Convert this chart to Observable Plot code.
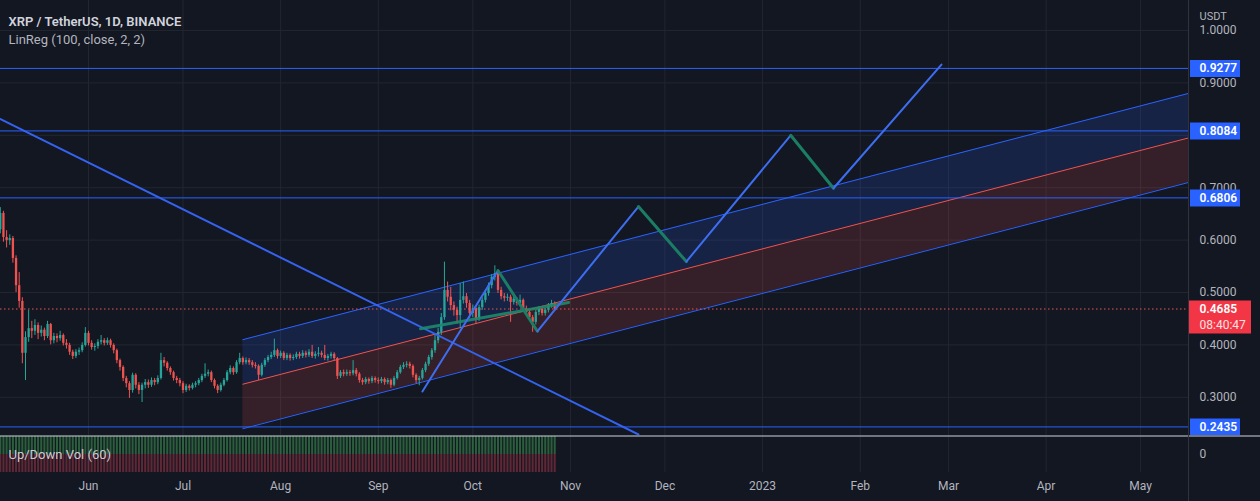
<!DOCTYPE html>
<html><head><meta charset="utf-8">
<script src="https://cdn.jsdelivr.net/npm/d3@7"></script>
<script src="https://cdn.jsdelivr.net/npm/@observablehq/plot@0.6"></script>
<style>
html,body{margin:0;padding:0;background:#131722;}
#chart{width:1260px;height:501px;overflow:hidden;background:#131722;}
#chart svg{display:block;}
</style></head><body><div id="chart"></div>
<script>
// ---------- data ----------
const firstDay = "2022-05-04";
const lastDayExclusive = "2022-10-28";
const firstOpen = 0.620;
const closes = [0.651,0.605,0.599,0.603,0.565,0.513,0.483,0.384,0.414,0.431,
0.426,0.437,0.422,0.428,0.416,0.439,0.408,0.416,0.412,0.418,
0.403,0.399,0.386,0.378,0.386,0.389,0.399,0.422,0.403,0.395,
0.397,0.405,0.408,0.403,0.408,0.399,0.389,0.370,0.357,0.336,
0.326,0.313,0.342,0.323,0.313,0.323,0.328,0.323,0.332,0.328,
0.336,0.370,0.365,0.355,0.347,0.336,0.332,0.326,0.313,0.321,
0.317,0.323,0.326,0.332,0.340,0.344,0.347,0.332,0.321,0.313,
0.323,0.332,0.347,0.355,0.347,0.366,0.374,0.366,0.370,0.366,
0.361,0.359,0.342,0.361,0.370,0.376,0.380,0.389,0.378,0.384,
0.374,0.380,0.374,0.376,0.382,0.378,0.384,0.380,0.386,0.378,
0.382,0.384,0.380,0.374,0.378,0.382,0.374,0.340,0.347,0.344,
0.347,0.345,0.351,0.344,0.332,0.328,0.334,0.330,0.336,0.332,
0.330,0.334,0.328,0.332,0.323,0.336,0.347,0.357,0.361,0.363,
0.359,0.342,0.332,0.336,0.351,0.363,0.376,0.389,0.408,0.424,
0.452,0.504,0.491,0.475,0.466,0.456,0.485,0.492,0.479,0.460,
0.469,0.450,0.471,0.485,0.498,0.513,0.529,0.536,0.504,0.492,
0.489,0.491,0.481,0.487,0.479,0.485,0.469,0.462,0.452,0.443,
0.462,0.469,0.460,0.466,0.475,0.479,0.4685];
const highs = [0.662,0.655,0.618,0.610,0.607,0.570,0.538,0.490,0.425,0.466,
0.445,0.448,0.442,0.436,0.432,0.445,0.441,0.422,0.421,0.426,
0.421,0.410,0.403,0.390,0.391,0.394,0.404,0.433,0.426,0.408,
0.402,0.410,0.418,0.412,0.413,0.411,0.402,0.392,0.373,0.360,
0.340,0.330,0.346,0.345,0.328,0.327,0.334,0.333,0.337,0.336,
0.341,0.384,0.376,0.368,0.358,0.350,0.340,0.336,0.330,0.325,
0.324,0.327,0.330,0.336,0.344,0.364,0.352,0.350,0.335,0.324,
0.327,0.336,0.351,0.360,0.358,0.370,0.384,0.377,0.375,0.374,
0.370,0.366,0.362,0.365,0.374,0.380,0.386,0.411,0.392,0.388,
0.387,0.384,0.383,0.381,0.386,0.386,0.389,0.388,0.391,0.399,
0.387,0.395,0.388,0.399,0.382,0.386,0.385,0.376,0.351,0.352,
0.352,0.351,0.370,0.355,0.347,0.336,0.338,0.337,0.340,0.339,
0.337,0.338,0.337,0.336,0.335,0.340,0.351,0.361,0.366,0.368,
0.367,0.362,0.345,0.340,0.355,0.367,0.380,0.393,0.420,0.432,
0.460,0.558,0.520,0.510,0.482,0.472,0.517,0.520,0.498,0.485,
0.476,0.474,0.476,0.490,0.503,0.518,0.534,0.551,0.540,0.510,
0.498,0.497,0.495,0.492,0.490,0.495,0.488,0.474,0.466,0.456,
0.466,0.473,0.472,0.470,0.479,0.485,0.482];
const lows = [0.612,0.596,0.585,0.590,0.556,0.500,0.470,0.364,0.332,0.405,
0.412,0.418,0.410,0.415,0.408,0.412,0.400,0.402,0.404,0.407,
0.398,0.392,0.380,0.372,0.374,0.380,0.385,0.396,0.398,0.390,
0.388,0.392,0.400,0.398,0.399,0.394,0.383,0.364,0.350,0.330,
0.318,0.298,0.308,0.316,0.305,0.290,0.316,0.317,0.319,0.322,
0.324,0.333,0.358,0.350,0.342,0.331,0.326,0.320,0.307,0.309,
0.312,0.314,0.318,0.322,0.328,0.336,0.339,0.328,0.316,0.307,
0.310,0.320,0.329,0.343,0.342,0.344,0.362,0.361,0.362,0.361,
0.356,0.354,0.332,0.339,0.357,0.366,0.372,0.376,0.373,0.374,
0.370,0.370,0.369,0.370,0.372,0.373,0.374,0.375,0.376,0.374,
0.373,0.377,0.375,0.370,0.369,0.373,0.370,0.334,0.336,0.339,
0.340,0.340,0.341,0.339,0.327,0.323,0.324,0.325,0.326,0.327,
0.325,0.326,0.323,0.324,0.317,0.320,0.333,0.344,0.353,0.356,
0.354,0.337,0.326,0.322,0.333,0.347,0.359,0.371,0.384,0.402,
0.418,0.447,0.482,0.465,0.455,0.440,0.431,0.478,0.470,0.450,
0.452,0.440,0.445,0.466,0.480,0.493,0.507,0.522,0.498,0.486,
0.482,0.483,0.443,0.476,0.474,0.475,0.463,0.456,0.446,0.424,
0.438,0.456,0.455,0.455,0.461,0.470,0.465];

const gridPrices = [0.3,0.4,0.5,0.6,0.7,0.8,0.9,1.0];
const axisPriceLabels = [0.3,0.4,0.5,0.6,0.7,0.9,1.0]; // 0.8000 is hidden behind the 0.8084 label
const monthTickDates = ["2022-06-01","2022-07-01","2022-08-01","2022-09-01","2022-10-01","2022-11-01","2022-12-01","2023-01-01","2023-02-01","2023-03-01","2023-04-01","2023-05-01"];
const monthTickLabels = ["Jun","Jul","Aug","Sep","Oct","Nov","Dec","2023","Feb","Mar","Apr","May"];

const levels = [0.9277, 0.8084, 0.6806, 0.2435];
const lastPrice = 0.4685;
const countdown = "08:40:47";

const linregDates = ["2022-07-20T00:00:00Z","2023-05-16T05:00:00Z"];
const linregUpper = [0.410, 0.880];
const linregMid   = [0.325, 0.795];
const linregLower = [0.240, 0.710];

const descDates = ["2022-05-04T01:30:00Z","2022-11-22T14:00:00Z"];
const descPrices = [0.831, 0.229];

const zigDates = ["2022-09-15T00:00:00Z","2022-10-09T00:00:00Z","2022-10-21T12:00:00Z","2022-11-22T14:00:00Z","2022-12-07T19:00:00Z","2023-01-09T22:00:00Z","2023-01-23T12:00:00Z","2023-02-26T19:00:00Z"];
const zigPrices = [0.311, 0.542, 0.426, 0.664, 0.559, 0.800, 0.699, 0.935];

const neckDates = ["2022-09-14T10:00:00Z","2022-10-31T10:00:00Z"];
const neckPrices = [0.431, 0.481];

const titleText = "XRP / TetherUS, 1D, BINANCE";
const indicatorText = "LinReg (100, close, 2, 2)";
const volText = "Up/Down Vol (60)";
const currencyText = "USDT";

// ---------- derived tables ----------
const UP = "#26a69a", DOWN = "#ef5350", BLUE = "#2962ff", GRID = "#222631", BG = "#131722";
const FONT = "Roboto, 'Open Sans', sans-serif";
const xDomain = [new Date("2022-05-04T01:30:00Z"), new Date("2023-05-16T05:00:00Z")];
const yDomain = [0.2271, 1.0573];
const days = d3.utcDay.range(new Date(firstDay), new Date(lastDayExclusive));
const candles = days.map((d, i) => ({
  date: d, open: i ? closes[i-1] : firstOpen, high: highs[i], low: lows[i], close: closes[i]
}));
const cColor = d => d.close >= d.open ? UP : DOWN;
const months = monthTickDates.map(s => new Date(s));
const monthLabel = new Map(months.map((d, i) => [+d, monthTickLabels[i]]));
const channel = linregDates.map((s, i) => ({date: new Date(s), upper: linregUpper[i], mid: linregMid[i], lower: linregLower[i]}));
const desc = descDates.map((s, i) => ({date: new Date(s), p: descPrices[i]}));
const zigSegs = zigDates.slice(1).map((s, i) => ({
  d1: new Date(zigDates[i]), p1: zigPrices[i], d2: new Date(s), p2: zigPrices[i+1],
  rising: zigPrices[i+1] > zigPrices[i]
}));
const neck = neckDates.map((s, i) => ({date: new Date(s), p: neckPrices[i]}));
const fmt4 = d3.format(".4f");

const main = Plot.plot({
  width: 1260, height: 435,
  marginLeft: 0, marginRight: 72, marginTop: 0, marginBottom: 0,
  style: {background: BG, color: "#b2b5be", fontFamily: FONT, fontSize: "12px"},
  x: {type: "utc", domain: xDomain, axis: null},
  y: {domain: yDomain, axis: null},
  marks: [
    Plot.ruleX(months, {stroke: GRID}),
    Plot.ruleY(gridPrices, {stroke: GRID}),
    Plot.areaY(channel, {x: "date", y1: "mid", y2: "upper", fill: BLUE, fillOpacity: 0.16}),
    Plot.areaY(channel, {x: "date", y1: "lower", y2: "mid", fill: DOWN, fillOpacity: 0.16}),
    Plot.line(channel, {x: "date", y: "upper", stroke: BLUE, strokeWidth: 1}),
    Plot.line(channel, {x: "date", y: "lower", stroke: BLUE, strokeWidth: 1}),
    Plot.line(channel, {x: "date", y: "mid", stroke: DOWN, strokeWidth: 1}),
    Plot.ruleY(levels, {stroke: BLUE, strokeWidth: 1}),
    Plot.ruleY([lastPrice], {stroke: DOWN, strokeDasharray: "1.5,2.5"}),
    Plot.ruleX(candles, {x: "date", y1: "low", y2: "high", stroke: cColor, strokeWidth: 1}),
    Plot.ruleX(candles, {x: "date", y1: "open", y2: "close", stroke: cColor, strokeWidth: 2.3}),
    Plot.line(desc, {x: "date", y: "p", stroke: "#3563f0", strokeWidth: 2, clip: true}),
    Plot.line(neck, {x: "date", y: "p", stroke: "#1d8a6c", strokeWidth: 3, strokeOpacity: 0.9}),
    Plot.link(zigSegs, {x1: "d1", y1: "p1", x2: "d2", y2: "p2",
      stroke: d => d.rising ? "#3d6ef2" : "#1b7d64",
      strokeWidth: d => d.rising ? 2 : 3, strokeLinecap: "round"}),
    // right price axis
    Plot.ruleX([xDomain[1]], {stroke: "#2f333e"}),
    Plot.axisY(axisPriceLabels, {anchor: "right", tickSize: 0, tickPadding: 11, tickFormat: fmt4, fill: "#b2b5be", fontSize: 12}),
    Plot.ruleY(levels, {stroke: BLUE, strokeWidth: 17, insetLeft: 1190, insetRight: -52}),
    Plot.text(levels, {y: d => d, text: d => fmt4(d), frameAnchor: "right", dx: 11, textAnchor: "start", fill: "white", fontSize: 12, fontWeight: 600}),
    Plot.ruleY([lastPrice], {stroke: "#f23645", strokeWidth: 33, dy: 8, insetLeft: 1189, insetRight: -63}),
    Plot.text([lastPrice], {y: d => d, text: d => fmt4(d), frameAnchor: "right", dx: 11, textAnchor: "start", fill: "white", fontSize: 12, fontWeight: 600}),
    Plot.text([lastPrice], {y: d => d, text: () => countdown, frameAnchor: "right", dx: 11, dy: 16, textAnchor: "start", fill: "#fde2e2", fontSize: 12}),
    Plot.text([currencyText], {text: d => d, frameAnchor: "top-right", dx: 11, dy: 12, textAnchor: "start", fill: "#b2b5be", fontSize: 11}),
    // header
    Plot.text([titleText], {text: d => d, frameAnchor: "top-left", dx: 8, dy: 16, textAnchor: "start", fill: "#d1d4dc", fontSize: 13, fontWeight: 600}),
    Plot.text([indicatorText], {text: d => d, frameAnchor: "top-left", dx: 8, dy: 34, textAnchor: "start", fill: "#b2b5be", fontSize: 13})
  ]
});

const vol = Plot.plot({
  width: 1260, height: 66,
  marginLeft: 0, marginRight: 72, marginTop: 1, marginBottom: 29,
  style: {background: BG, color: "#b2b5be", fontFamily: FONT, fontSize: "12px"},
  x: {type: "utc", domain: xDomain, axis: null},
  y: {domain: [-1, 1], axis: null},
  marks: [
    Plot.ruleX(months, {stroke: GRID}),
    Plot.ruleX(candles, {x: "date", y1: 0, y2: 1, stroke: "#3f9a52", strokeOpacity: 0.55, strokeWidth: 2}),
    Plot.ruleX(candles, {x: "date", y1: -1, y2: 0, stroke: "#c23c4e", strokeOpacity: 0.45, strokeWidth: 2}),
    Plot.ruleY([1], {stroke: "#d1d4dc", strokeWidth: 1, dy: -0.5, insetRight: -72}),
    Plot.ruleX([xDomain[1]], {stroke: "#2f333e", insetTop: -1, insetBottom: -29}),
    Plot.text([volText], {text: d => d, frameAnchor: "left", dx: 8, textAnchor: "start", fill: "#c8cad0", fontSize: 13}),
    Plot.axisY([0], {anchor: "right", tickSize: 0, tickPadding: 11, tickFormat: () => "0", fill: "#b2b5be", fontSize: 12}),
    Plot.axisX(months, {tickSize: 0, tickPadding: 9, tickFormat: d => monthLabel.get(+d), fill: "#b2b5be", fontSize: 12})
  ]
});

const root = document.getElementById("chart");
root.appendChild(main);
root.appendChild(vol);
</script></body></html>
